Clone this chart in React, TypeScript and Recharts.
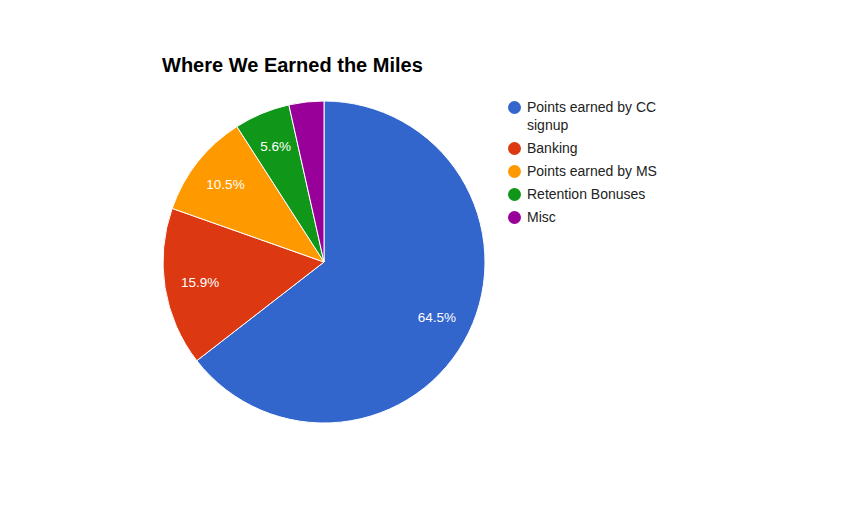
import * as React from "react";
import { PieChart, Pie, Cell } from "recharts";

const categories = [
  "Points earned by CC signup",
  "Banking",
  "Points earned by MS",
  "Retention Bonuses",
  "Misc",
];
const shares = [64.5, 15.9, 10.5, 5.6, 3.5];
const colors = ["#3366cc", "#dc3912", "#ff9900", "#109618", "#990099"];

const pieData = categories.map((name, i) => ({ name, value: shares[i] }));

const RADIAN = Math.PI / 180;

const renderLabel = (props: any) => {
  const { cx, cy, midAngle, outerRadius, percent } = props;
  if (percent < 0.05) return null;
  const r = outerRadius * 0.78;
  const x = cx + r * Math.cos(-midAngle * RADIAN);
  const y = cy + r * Math.sin(-midAngle * RADIAN);
  return (
    <text
      x={x}
      y={y}
      fill="#ffffff"
      textAnchor="middle"
      dominantBaseline="central"
      fontSize={13.5}
      fontFamily="Liberation Sans, Arial, sans-serif"
    >
      {(percent * 100).toFixed(1)}%
    </text>
  );
};

const LegendBox = () => (
  <div
    style={{
      position: "absolute",
      left: 508,
      top: 98,
      width: 160,
      fontFamily: "Liberation Sans, Arial, sans-serif",
      fontSize: 14,
      color: "#222222",
    }}
  >
    {categories.map((name, i) => (
      <div key={name} style={{ display: "flex", alignItems: "flex-start", marginBottom: 5 }}>
        <span
          style={{
            width: 13,
            height: 13,
            borderRadius: "50%",
            background: colors[i],
            flex: "0 0 auto",
            marginTop: 3,
            marginRight: 6,
          }}
        />
        <span style={{ lineHeight: "18px", width: 140 }}>{name}</span>
      </div>
    ))}
  </div>
);

const App = () => {
  return (
    <div style={{ position: "absolute", left: 0, top: 0, width: 847, height: 524, background: "#fff" }}>
      <div
        style={{
          position: "absolute",
          left: 162,
          top: 54,
          fontFamily: "Liberation Sans, Arial, sans-serif",
          fontWeight: "bold",
          fontSize: 20,
          color: "#000",
          whiteSpace: "nowrap",
        }}
      >
        Where We Earned the Miles
      </div>
      <div style={{ position: "absolute", left: 0, top: 0 }}>
        <PieChart width={847} height={524} margin={{ top: 0, right: 0, bottom: 0, left: 0 }}>
          <Pie
            data={pieData}
            dataKey="value"
            nameKey="name"
            cx={324}
            cy={262}
            outerRadius={161}
            startAngle={90}
            endAngle={-270}
            stroke="#ffffff"
            strokeWidth={1}
            label={renderLabel}
            labelLine={false}
            isAnimationActive={false}
          >
            {pieData.map((d, i) => (
              <Cell key={d.name} fill={colors[i]} />
            ))}
          </Pie>
        </PieChart>
      </div>
      <LegendBox />
    </div>
  );
};

export default App;
